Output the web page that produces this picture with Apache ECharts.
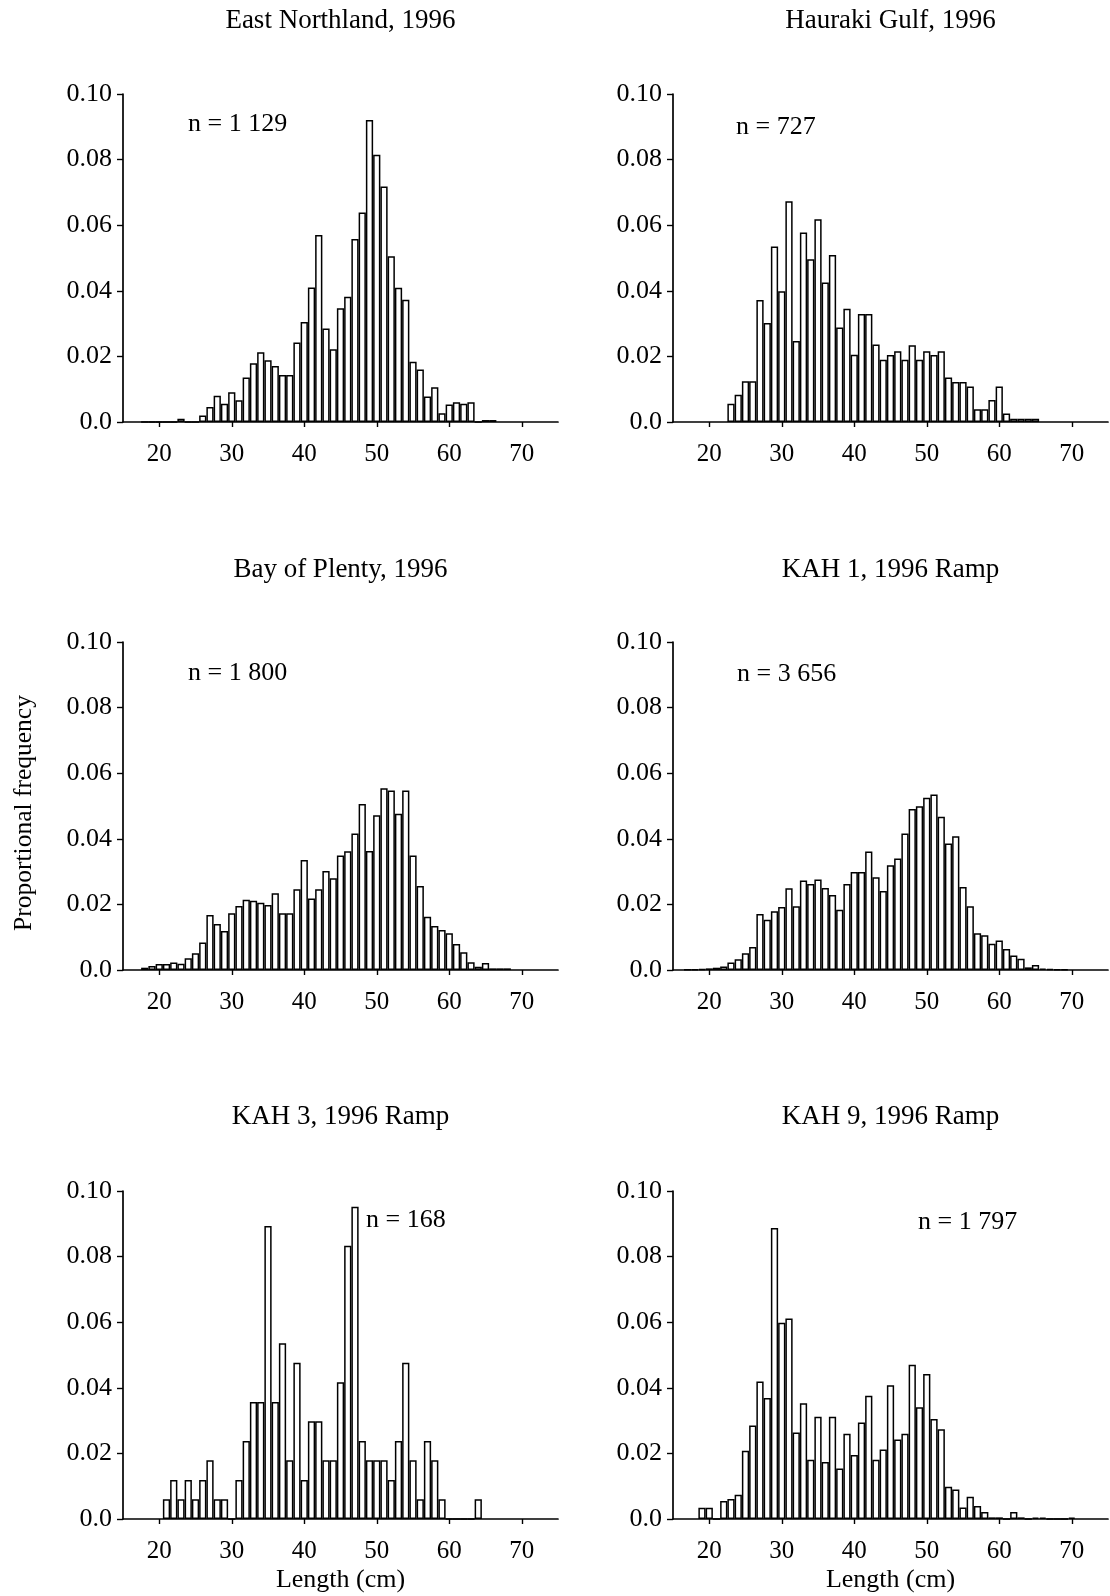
<!DOCTYPE html>
<html><head><meta charset="utf-8">
<script src="https://cdn.jsdelivr.net/npm/echarts@6/dist/echarts.min.js"></script>
<style>html,body{margin:0;padding:0;background:#fff}#c{width:1110px;height:1596px}</style>
</head><body><div id="c"></div>
<script>
const panelTitles = ['East Northland, 1996', 'Hauraki Gulf, 1996', 'Bay of Plenty, 1996', 'KAH 1, 1996 Ramp', 'KAH 3, 1996 Ramp', 'KAH 9, 1996 Ramp'];
const sampleSizes = ['n = 1 129', 'n = 727', 'n = 1 800', 'n = 3 656', 'n = 168', 'n = 1 797'];
const firstLengths = [18, 23, 18, 17, 21, 19];

const eastNorthland = [0, 0, 0, 0, 0, 0.001, 0, 0, 0.002, 0.0046, 0.008, 0.0056, 0.0091, 0.0066, 0.0136, 0.0179, 0.0213, 0.0188, 0.0171, 0.0143, 0.0143, 0.0242, 0.0305, 0.041, 0.057, 0.0285, 0.0222, 0.0347, 0.0382, 0.0558, 0.0639, 0.0921, 0.0815, 0.0718, 0.0505, 0.0409, 0.0373, 0.0184, 0.016, 0.0078, 0.0106, 0.0027, 0.0053, 0.006, 0.0056, 0.006, 0, 0.0006, 0.0006];
const haurakiGulf = [0.0056, 0.0083, 0.0124, 0.0124, 0.0372, 0.0302, 0.0535, 0.0399, 0.0673, 0.0247, 0.0578, 0.0496, 0.0618, 0.0425, 0.0509, 0.0288, 0.0345, 0.0205, 0.0329, 0.0329, 0.0236, 0.019, 0.0204, 0.0216, 0.019, 0.0234, 0.019, 0.0216, 0.0204, 0.0216, 0.0136, 0.0122, 0.0122, 0.0108, 0.0039, 0.0039, 0.0067, 0.0108, 0.0026, 0.001, 0.001, 0.001, 0.001];
const bayOfPlenty = [0.0007, 0.0012, 0.0018, 0.0018, 0.0023, 0.0019, 0.0036, 0.0051, 0.0084, 0.0168, 0.014, 0.0119, 0.0173, 0.0195, 0.0214, 0.0211, 0.0205, 0.0198, 0.0234, 0.0173, 0.0173, 0.0246, 0.0335, 0.0218, 0.0246, 0.0302, 0.028, 0.0349, 0.0362, 0.0416, 0.0506, 0.0363, 0.0472, 0.0554, 0.0547, 0.0476, 0.0547, 0.0349, 0.0256, 0.0162, 0.0134, 0.0122, 0.0112, 0.0079, 0.0054, 0.0024, 0.001, 0.0021, 0.0005, 0.0005, 0.0005];
const kah1 = [0.0001, 0.0002, 0.0003, 0.0005, 0.0007, 0.0011, 0.0023, 0.0033, 0.0051, 0.007, 0.0171, 0.0153, 0.0179, 0.0192, 0.0249, 0.0194, 0.0273, 0.0262, 0.0276, 0.025, 0.0229, 0.0184, 0.0262, 0.0299, 0.0299, 0.0361, 0.0283, 0.0241, 0.0319, 0.034, 0.0416, 0.0491, 0.0499, 0.0525, 0.0535, 0.0467, 0.0386, 0.0408, 0.0253, 0.0194, 0.0112, 0.0106, 0.008, 0.009, 0.0064, 0.0044, 0.0034, 0.0008, 0.0015, 0.0004, 0.0003, 0.0002, 0.0002];
const kah3 = [0.006, 0.0119, 0.006, 0.0119, 0.006, 0.0119, 0.0179, 0.006, 0.006, 0, 0.0119, 0.0238, 0.0357, 0.0357, 0.0893, 0.0357, 0.0536, 0.0179, 0.0476, 0.0119, 0.0298, 0.0298, 0.0179, 0.0179, 0.0417, 0.0833, 0.0952, 0.0238, 0.0179, 0.0179, 0.0179, 0.0119, 0.0238, 0.0476, 0.0179, 0.006, 0.0238, 0.0179, 0.006, 0, 0, 0, 0, 0.006];
const kah9 = [0.0034, 0.0034, 0, 0.0055, 0.0061, 0.0074, 0.0208, 0.0285, 0.0419, 0.0369, 0.0887, 0.0598, 0.0611, 0.0264, 0.0353, 0.0181, 0.0312, 0.0174, 0.0312, 0.0154, 0.026, 0.0195, 0.0294, 0.0376, 0.0181, 0.0212, 0.0408, 0.0242, 0.026, 0.047, 0.0341, 0.0442, 0.0305, 0.0274, 0.0098, 0.009, 0.0035, 0.0068, 0.004, 0.0021, 0.0005, 0.0005, 0, 0.0021, 0.0005, 0, 0.0004, 0.0004, 0, 0, 0, 0.0004];

const xTickValues = [20, 30, 40, 50, 60, 70];
const yTickLabels = ['0.0', '0.02', '0.04', '0.06', '0.08', '0.10'];

const panelSeries = [eastNorthland, haurakiGulf, bayOfPlenty, kah1, kah3, kah9];

const FONT = '"Liberation Serif", "Times New Roman", serif';
const colLeft = [123, 673];
const rowTop = [94, 642, 1191];
const plotW = 435, plotH = 328;
const titleY = [21, 570, 1117];
const nPos = [[188, 124], [736, 127], [188, 673], [737, 674], [366, 1220], [918, 1222]];

const grid = [], xAxis = [], yAxis = [], series = [], graphic = [];
for (let i = 0; i < 6; i++) {
  const c = i % 2, r = Math.floor(i / 2);
  grid.push({left: colLeft[c], top: rowTop[r], width: plotW, height: plotH});
  xAxis.push({
    type: 'value', gridIndex: i, min: 15, max: 75,
    axisLine: {show: true, lineStyle: {color: '#000', width: 1.7}},
    axisTick: {show: true, length: 5, lineStyle: {color: '#000', width: 1.4}, customValues: xTickValues},
    axisLabel: {customValues: xTickValues, margin: 20, fontSize: 25, fontFamily: FONT, color: '#000'},
    splitLine: {show: false}
  });
  yAxis.push({
    type: 'value', gridIndex: i, min: 0, max: 0.1, interval: 0.02,
    axisLine: {show: true, lineStyle: {color: '#000', width: 1.7}},
    axisTick: {show: true, length: 6, lineStyle: {color: '#000', width: 1.4}},
    axisLabel: {margin: 11, fontSize: 26, fontFamily: FONT, color: '#000',
      formatter: v => yTickLabels[Math.round(v / 0.02)]},
    splitLine: {show: false}
  });
  const vals = panelSeries[i];
  series.push({
    type: 'bar', xAxisIndex: i, yAxisIndex: i, barWidth: '100%',
    data: vals.map((v, k) => [firstLengths[i] + k, v]),
    itemStyle: {color: '#fff', borderColor: '#000', borderWidth: 1.5},
    emphasis: {disabled: true}, animation: false
  });
  graphic.push({type: 'text', x: colLeft[c] + plotW / 2, y: titleY[r],
    style: {text: panelTitles[i], fontSize: 27, fontFamily: FONT, fill: '#000', textAlign: 'center', textVerticalAlign: 'middle'}});
  graphic.push({type: 'text', x: nPos[i][0], y: nPos[i][1],
    style: {text: sampleSizes[i], fontSize: 26, fontFamily: FONT, fill: '#000', textAlign: 'left', textVerticalAlign: 'middle'}});
}
graphic.push({type: 'text', x: 24, y: 813, rotation: Math.PI / 2,
  style: {text: 'Proportional frequency', fontSize: 25.5, fontFamily: FONT, fill: '#000', textAlign: 'center', textVerticalAlign: 'middle'}});
for (let c = 0; c < 2; c++) {
  graphic.push({type: 'text', x: colLeft[c] + plotW / 2, y: 1580,
    style: {text: 'Length (cm)', fontSize: 26, fontFamily: FONT, fill: '#000', textAlign: 'center', textVerticalAlign: 'middle'}});
}

const chart = echarts.init(document.getElementById('c'), null, {renderer: 'canvas'});
chart.setOption({
  backgroundColor: '#fff', animation: false,
  textStyle: {fontFamily: FONT, color: '#000'},
  grid, xAxis, yAxis, series, graphic
});
</script></body></html>
